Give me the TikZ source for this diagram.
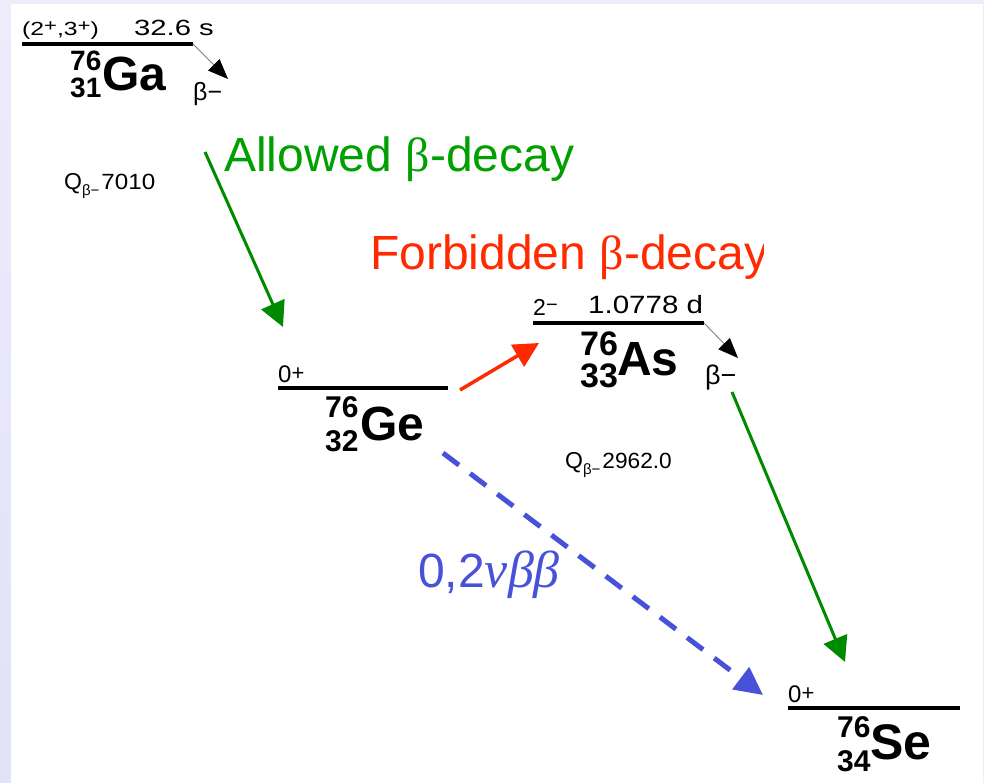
\documentclass[tikz,border=0pt]{standalone}
\usepackage{fix-cm}
\usepackage{graphicx}
\usepackage{fontspec}
\setmainfont{Liberation Sans}
\newfontfamily\greekserif{Liberation Serif}
\usetikzlibrary{arrows.meta}

\definecolor{frametint}{RGB}{236,236,251}
\definecolor{frametop}{RGB}{236,236,251}
\definecolor{framemid}{RGB}{246,246,253}
\definecolor{framebot}{RGB}{226,226,248}
\definecolor{allowedtext}{RGB}{0,160,0}
\definecolor{allowedarrow}{RGB}{0,138,0}
\definecolor{forbidden}{RGB}{255,42,0}
\definecolor{dbeta}{RGB}{72,82,217}

\newcommand\sz[1]{\fontsize{#1}{#1}\selectfont}
\newcommand\hsq[2]{\scalebox{#1}[1]{#2}}
% raised sign after a spin value
\newcommand\spinsign[3][17]{\raisebox{#2}{\sz{#1}#3}}

\tikzset{
  lbl/.style={inner sep=0pt, anchor=base west},
  level/.style={line width=3.8pt, black},
  betaline/.style={draw=black!50, line width=0.9pt,
    -{Triangle[length=20pt,width=16pt,black]}},
  decay/.style={line width=3pt, -{Triangle[length=25pt,width=25pt]}},
  dbdecay/.style={line width=5pt, dbeta, dash pattern=on 20pt off 14pt,
    -{Triangle[length=28pt,width=27pt]}},
}

\begin{document}
\begin{tikzpicture}[x=1pt,y=-1pt]
  \useasboundingbox (0,0) rectangle (984,783);
  % slide frame
  \fill[frametint] (0,0) rectangle (984,783);
  \shade[top color=frametop, middle color=framemid, bottom color=framebot]
    (0,0) rectangle (11,783);
  \fill[white] (11,4.5) rectangle (982.5,783);

  % ---- 76Ga ----
  \coordinate (gaL) at (22,44);
  \coordinate (gaR) at (193,44);
  \draw[level, line width=3.5pt] (gaL) -- (gaR);
  \node[lbl] (gaSpin) at (22,36) {\hsq{1.3}{\sz{19}(2\spinsign{4pt}{+},3\spinsign{4pt}{+})}};
  \node[lbl] (gaHalf) at (134,36) {\hsq{1.33}{\sz{22}32.6 s}};
  \node[lbl] (gaA) at (70,71) {\sz{28}\bfseries 76};
  \node[lbl] (gaSym) at (102,91) {\sz{48}\bfseries Ga};
  \node[lbl] (gaZ) at (70,98) {\sz{28}\bfseries 31};
  \node[lbl] (gaBeta) at (193,101) {\sz{25}β−};
  \coordinate (gaTip) at (228,79);
  \draw[betaline] (gaR) -- (gaTip);
  \node[lbl] (gaQ) at (64,190) {\sz{23}Q\raisebox{-6pt}{\sz{15}β−}\hspace{2pt}\hsq{1.1}{\sz{22}7010}};

  % ---- 76Ge ----
  \coordinate (geL) at (278,388);
  \coordinate (geR) at (448,388);
  \draw[level] (geL) -- (geR);
  \node[lbl] (geSpin) at (278,382) {\sz{24}0\spinsign[22]{2pt}{+}};
  \node[lbl] (geA) at (325,417) {\sz{30}\bfseries 76};
  \node[lbl] (geSym) at (360,440) {\sz{48}\bfseries Ge};
  \node[lbl] (geZ) at (325,451) {\sz{30}\bfseries 32};

  % ---- 76As ----
  \coordinate (asL) at (533,323);
  \coordinate (asR) at (704,323);
  \draw[level] (asL) -- (asR);
  \node[lbl] (asSpin) at (533,315) {\sz{23}2\spinsign[20]{4pt}{−}};
  \node[lbl] (asHalf) at (588,313) {\hsq{1.18}{\sz{25}1.0778 d}};
  \node[lbl] (asA) at (580,355) {\sz{34}\bfseries 76};
  \node[lbl] (asSym) at (617,375) {\sz{48}\bfseries As};
  \node[lbl] (asZ) at (580,387) {\sz{34}\bfseries 33};
  \node[lbl] (asBeta) at (705,384) {\sz{27}β−};
  \coordinate (asTip) at (738,358);
  \draw[betaline] (asR) -- (asTip);
  \node[lbl] (asQ) at (565,468) {\sz{23}Q\raisebox{-6pt}{\sz{15}β−}\hspace{2pt}\hsq{1.03}{\sz{22}2962.0}};

  % ---- 76Se ----
  \coordinate (seL) at (788,708);
  \coordinate (seR) at (960,708);
  \draw[level] (seL) -- (seR);
  \node[lbl] (seSpin) at (788,702) {\sz{24}0\spinsign[22]{2pt}{+}};
  \node[lbl] (seA) at (837,737) {\sz{30}\bfseries 76};
  \node[lbl] (seSym) at (870,759) {\sz{50}\bfseries Se};
  \node[lbl] (seZ) at (837,771) {\sz{30}\bfseries 34};

  % ---- decay arrows ----
  \coordinate (gaOut) at (205,152);
  \coordinate (geIn) at (283,327);
  \draw[decay, allowedarrow] (gaOut) -- (geIn);

  \coordinate (geOut) at (460,390);
  \coordinate (asIn) at (539,343);
  \draw[decay, forbidden, line width=3.5pt] (geOut) -- (asIn);

  \coordinate (asOut) at (732,392);
  \coordinate (seIn) at (845,662);
  \draw[decay, allowedarrow] (asOut) -- (seIn);

  \coordinate (geDbOut) at (443,453);
  \coordinate (seDbIn) at (763,695);
  \draw[dbdecay] (geDbOut) -- (seDbIn);

  % ---- annotations ----
  \node[lbl, allowedtext] (allowedLbl) at (224,172)
    {\sz{48}Allowed {\greekserif β}-decay};
  \begin{scope}
    \clip (360,215) rectangle (763,295);
    \node[lbl, forbidden] (forbiddenLbl) at (370,270)
      {\sz{48}Forbidden {\greekserif β}-decay};
  \end{scope}
  \node[lbl, dbeta] (dbLbl) at (418,587) {\sz{48}0,2{\greekserif\itshape\sz{52}νββ}};
\end{tikzpicture}
\end{document}
